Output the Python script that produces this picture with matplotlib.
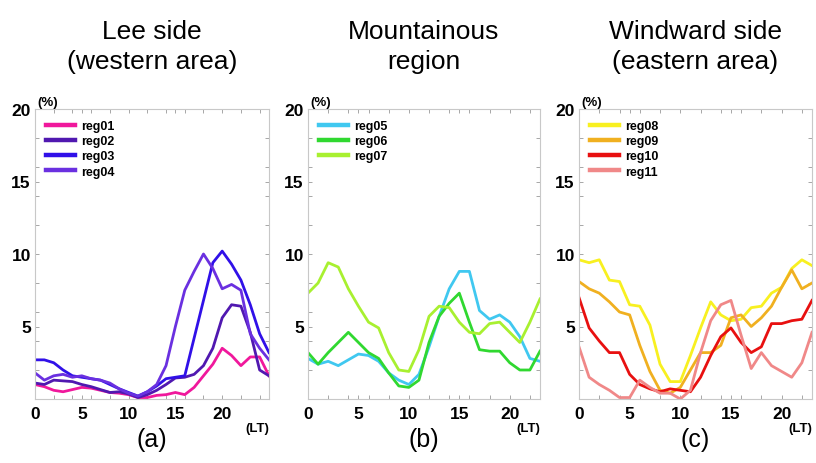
import numpy as np
import matplotlib
matplotlib.use("Agg")
from matplotlib import pyplot as plt
from matplotlib.ticker import MultipleLocator

plt.rcParams['font.family'] = ['Liberation Sans', 'DejaVu Sans']

# local time (hours); the lee-side panel runs to 25
hours_a = np.arange(0, 26)
hours_bc = np.arange(0, 24)

# Lee side (western area)
reg01 = [1.0, 0.85, 0.6, 0.5, 0.65, 0.8, 0.75, 0.6, 0.45, 0.4, 0.3, 0.1, 0.1,
         0.25, 0.3, 0.45, 0.3, 0.8, 1.6, 2.4, 3.5, 3.0, 2.3, 2.9, 2.9, 1.6]
reg02 = [1.1, 1.0, 1.3, 1.25, 1.2, 1.0, 0.85, 0.65, 0.45, 0.5, 0.35, 0.1, 0.3,
         0.6, 1.0, 1.45, 1.5, 1.7, 2.3, 3.5, 5.6, 6.5, 6.4, 4.6, 2.0, 1.6]
reg03 = [2.7, 2.7, 2.5, 2.0, 1.6, 1.5, 1.4, 1.3, 1.0, 0.7, 0.45, 0.2, 0.5,
         0.9, 1.4, 1.5, 1.6, 4.2, 6.8, 9.4, 10.2, 9.3, 8.2, 6.5, 4.5, 3.2]
reg04 = [1.8, 1.3, 1.6, 1.7, 1.5, 1.6, 1.4, 1.3, 1.1, 0.7, 0.4, 0.2, 0.5,
         1.0, 2.3, 5.0, 7.5, 8.8, 10.0, 9.0, 7.6, 7.9, 7.5, 4.5, 3.5, 2.7]

# Mountainous region
reg05 = [2.8, 2.4, 2.6, 2.3, 2.7, 3.1, 3.0, 2.6, 1.8, 1.3, 1.0, 1.7, 3.6,
         5.7, 7.6, 8.8, 8.8, 6.1, 5.5, 5.8, 5.3, 4.3, 2.8, 2.6]
reg06 = [3.2, 2.4, 3.2, 3.9, 4.6, 3.9, 3.2, 2.8, 1.8, 0.9, 0.8, 1.3, 3.9,
         5.7, 6.6, 7.3, 5.3, 3.4, 3.3, 3.3, 2.5, 2.0, 2.0, 3.3]
reg07 = [7.3, 8.0, 9.4, 9.1, 7.6, 6.4, 5.3, 4.9, 3.2, 2.0, 1.9, 3.4, 5.7,
         6.4, 6.3, 5.3, 4.6, 4.5, 5.2, 5.3, 4.6, 3.9, 5.3, 6.9]

# Windward side (eastern area)
reg08 = [9.6, 9.4, 9.6, 8.2, 8.1, 6.5, 6.4, 5.1, 2.4, 1.2, 1.2, 3.0, 4.9,
         6.7, 5.8, 5.4, 5.5, 6.3, 6.4, 7.3, 7.7, 9.0, 9.6, 9.2]
reg09 = [8.1, 7.6, 7.3, 6.7, 6.0, 5.8, 3.7, 1.9, 0.6, 0.4, 0.8, 2.0, 3.2,
         3.2, 3.7, 5.6, 5.8, 5.0, 5.6, 6.4, 7.7, 8.9, 7.6, 8.0]
reg10 = [7.0, 4.9, 4.0, 3.2, 3.2, 1.7, 1.0, 0.7, 0.5, 0.7, 0.6, 0.5, 1.5,
         3.0, 4.3, 4.9, 3.9, 3.2, 3.6, 5.2, 5.2, 5.4, 5.5, 6.8]
reg11 = [3.6, 1.5, 1.0, 0.6, 0.1, 0.1, 1.3, 0.8, 0.4, 0.4, 0.0, 0.6, 3.2,
         5.4, 6.5, 6.8, 4.4, 2.1, 3.2, 2.3, 1.9, 1.5, 2.5, 4.6]

titles = ["Lee side\n(western area)", "Mountainous\nregion", "Windward side\n(eastern area)"]
letters = ["(a)", "(b)", "(c)"]

panels = [
    (hours_a, 25, [("reg01", reg01, "#f0189c"), ("reg02", reg02, "#5018b0"),
                   ("reg03", reg03, "#3010e8"), ("reg04", reg04, "#6a30e0")]),
    (hours_bc, 23, [("reg05", reg05, "#40c8f0"), ("reg06", reg06, "#30d830"),
                    ("reg07", reg07, "#a8f030")]),
    (hours_bc, 23, [("reg08", reg08, "#f8f020"), ("reg09", reg09, "#f0b020"),
                    ("reg10", reg10, "#e81010"), ("reg11", reg11, "#f08888")]),
]

fig = plt.figure(figsize=(8.16, 4.64), dpi=100)
lefts = [35, 308, 579]
widths = [234, 232, 233]

for i, (hrs, xmax, series) in enumerate(panels):
    ax = fig.add_axes([lefts[i] / 816, 64 / 464, widths[i] / 816, 290 / 464])
    for name, vals, col in series:
        ax.plot(hrs, vals, color=col, lw=2.0, label=name)
    ax.set_xlim(0, xmax)
    ax.set_ylim(0, 20)
    ax.set_xticks([0, 5, 10, 15, 20])
    ax.set_yticks([5, 10, 15, 20])
    ax.xaxis.set_minor_locator(MultipleLocator(2))
    ax.yaxis.set_minor_locator(MultipleLocator(2))
    ax.tick_params(which="both", direction="in", top=True, right=True,
                   color="#999999", length=3, width=0.6)
    ax.tick_params(axis="x", labelsize=12.5, pad=5)
    ax.tick_params(axis="y", labelsize=12.5, pad=3)
    for lab in ax.get_xticklabels() + ax.get_yticklabels():
        lab.set_fontweight("bold")
    for sp in ax.spines.values():
        sp.set_color("#c8c8c8")
        sp.set_linewidth(0.8)
    leg = ax.legend(loc="upper left", frameon=False, handlelength=2.3,
                    prop={"weight": "bold", "size": 9}, labelspacing=0.25,
                    borderaxespad=0.5, handletextpad=0.5)
    for ln in leg.get_lines():
        ln.set_linewidth(3.2)
    ax.text(0.01, 1.005, "(%)", transform=ax.transAxes, fontsize=9.5,
            fontweight="bold", ha="left", va="bottom")
    ax.text(1.0, -0.1, "(LT)", transform=ax.transAxes, fontsize=9.5,
            fontweight="bold", ha="right", va="center")
    cx = (lefts[i] + widths[i] / 2) / 816
    fig.text(cx, 1 - 47 / 464, titles[i], ha="center", va="center",
             fontsize=19, linespacing=1.3)
    fig.text(cx, 1 - 440 / 464, letters[i], ha="center", va="center",
             fontsize=18)

fig.savefig("out.png", dpi=100)
